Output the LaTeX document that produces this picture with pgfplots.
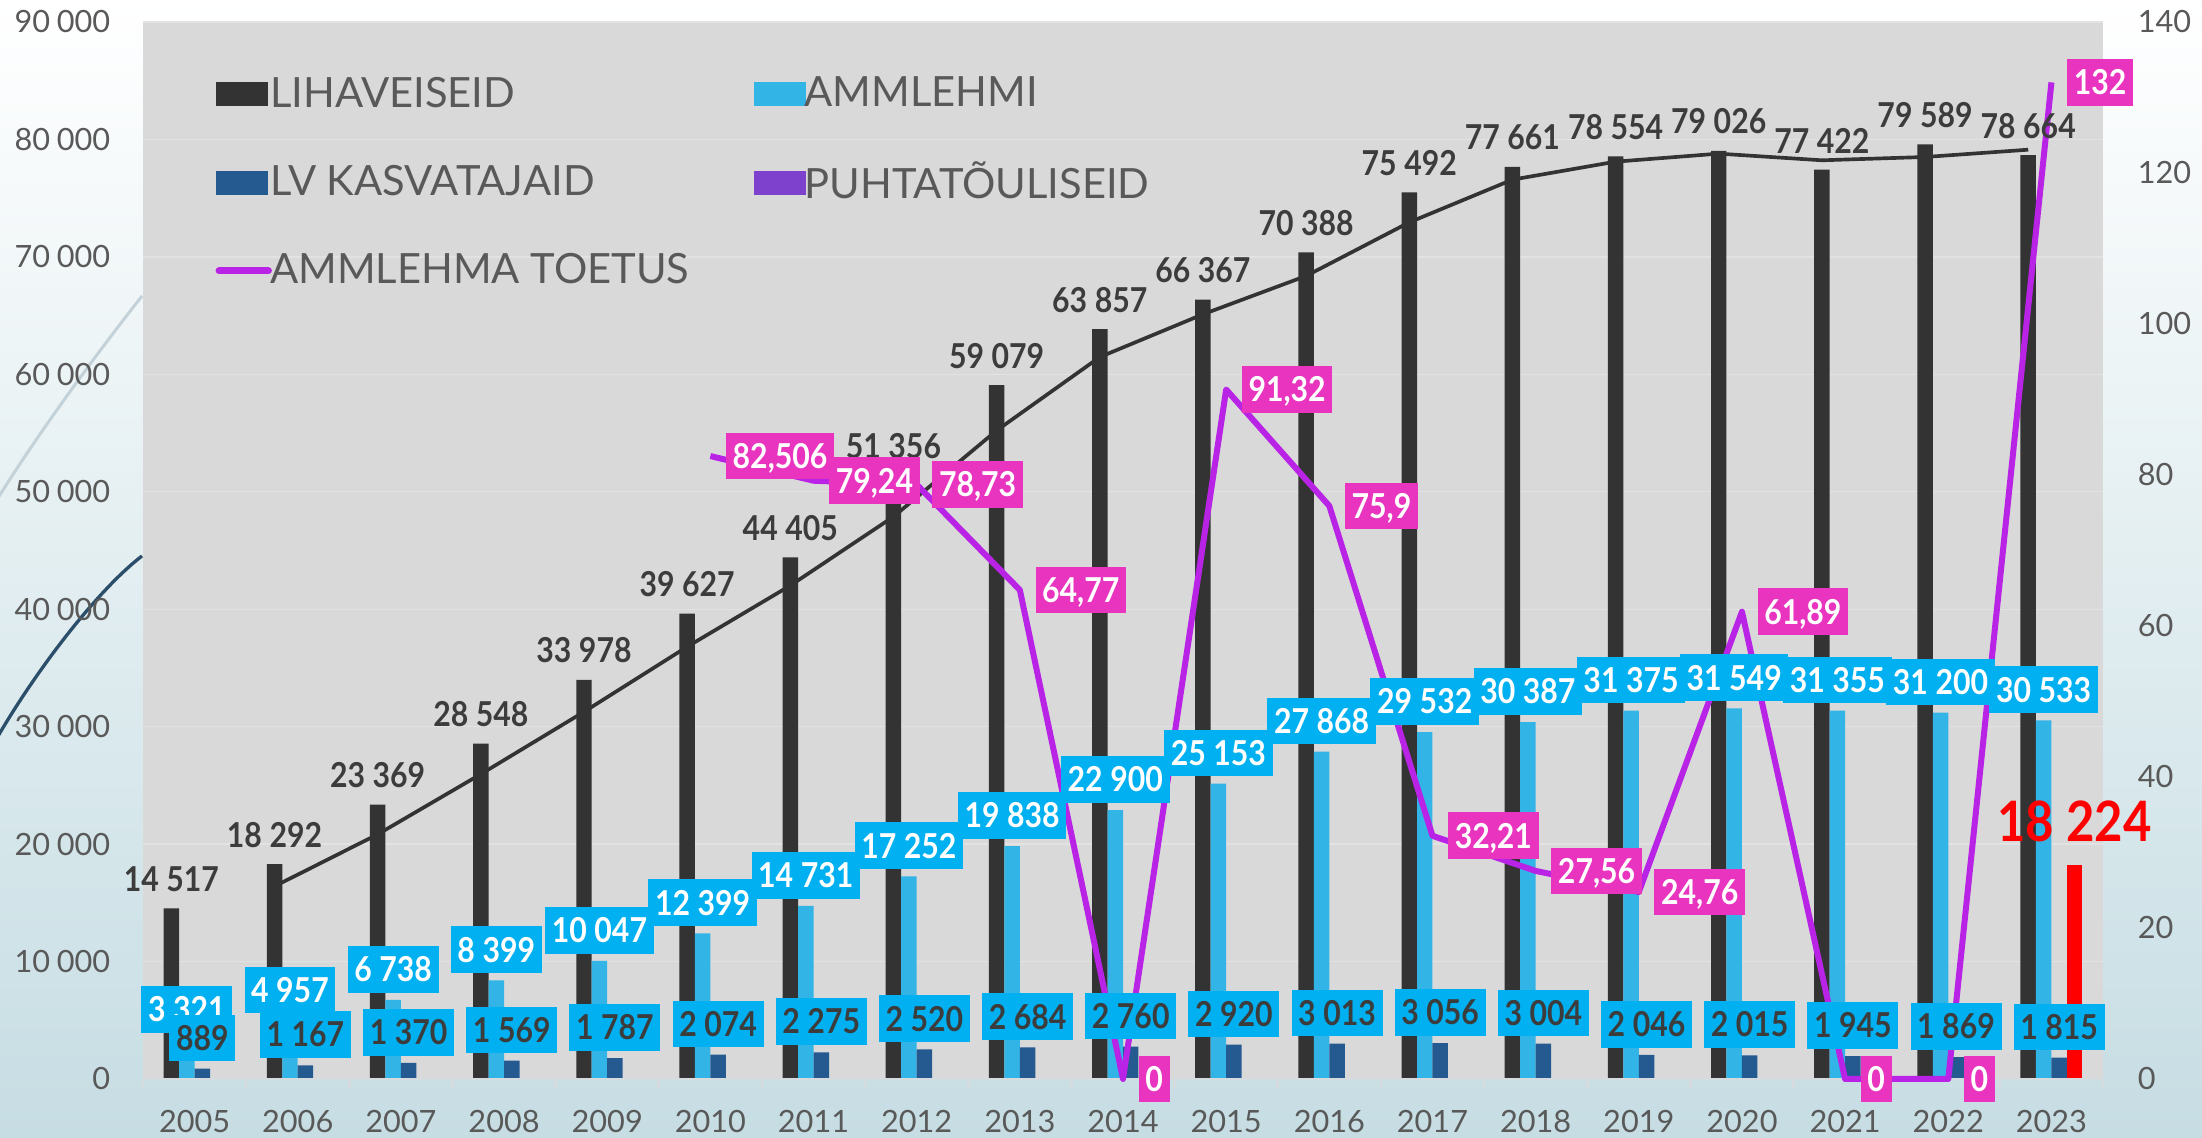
\documentclass[border=0pt]{standalone}
\usepackage{pgfplots}
\pgfplotsset{compat=1.18}
\usepackage{pgfplotstable}
\usepackage{fontspec}
\setmainfont{Lato}
\newfontfamily\lblfamily{Lato}[FakeStretch=0.88]

\definecolor{plotbg}{HTML}{D9D9D9}
\definecolor{lihac}{HTML}{333333}
\definecolor{ammc}{HTML}{32B4E6}
\definecolor{lvc}{HTML}{255A91}
\definecolor{puhc}{HTML}{7D41CD}
\definecolor{linec}{HTML}{B923E6}
\definecolor{boxblue}{HTML}{00B0F0}
\definecolor{boxmag}{HTML}{E834BE}
\definecolor{labdark}{HTML}{3C3C3C}
\definecolor{tickc}{HTML}{595959}
\definecolor{bgbottom}{HTML}{C6DDE3}
\definecolor{decolight}{HTML}{C3D1D8}
\definecolor{decodark}{HTML}{2B4F6B}
\definecolor{axisc}{HTML}{D5DCDF}

\pgfplotsset{
  barleg/.style={legend image code/.code={\fill[##1] (0pt,-3.6pt) rectangle (15.6pt,3.6pt);}},
  lineleg/.style={legend image code/.code={\draw[##1, line width=2.1pt, line cap=round] (0.8pt,0pt) -- (15.6pt,0pt);}},
}

\pgfplotstableread{
x liha amm lv
0 14517 3321 889
1 18292 4957 1167
2 23369 6738 1370
3 28548 8399 1569
4 33978 10047 1787
5 39627 12399 2074
6 44405 14731 2275
7 51356 17252 2520
8 59079 19838 2684
9 63857 22900 2760
10 66367 25153 2920
11 70388 27868 3013
12 75492 29532 3056
13 77661 30387 3004
14 78554 31375 2046
15 79026 31549 2015
16 77422 31355 1945
17 79589 31200 1869
18 78664 30533 1815
}\maindata

\pgfplotstableread{
x t
1 16404.5
2 20830.5
3 25958.5
4 31263
5 36802.5
6 42016
7 47880.5
8 55217.5
9 61468
10 65112
11 68377.5
12 72940
13 76576.5
14 78107.5
15 78790
16 78224
17 78505.5
18 79126.5
}\trenddata

\pgfplotstableread{
x v lbl
5 82.506 82,506
6 79.24 79,24
7 78.73 78,73
8 64.77 64,77
9 0 0
10 91.32 91,32
11 75.9 75,9
12 32.21 32,21
13 27.56 27,56
14 24.76 24,76
15 61.89 61,89
16 0 0
17 0 0
18 132 132
}\toetus

\tikzset{
  lblfont/.style={font=\lblfamily\bfseries\fontsize{10.3}{12}\selectfont},
  boxlbl/.style={lblfont, inner xsep=2pt, inner ysep=3.3pt, text height=7.4pt, text depth=0pt},
  bluebox/.style={boxlbl, fill=boxblue, anchor=south, yshift=2pt},
  magbox/.style={boxlbl, fill=boxmag, text=white, anchor=west, xshift=4.5pt},
}

\begin{document}
\begin{tikzpicture}
% background of the slide
\shade[top color=white, bottom color=bgbottom] (-42.9pt,-17.7pt) rectangle (617.7pt,323.7pt);
\draw[decolight, line width=0.9pt] (-0.3pt,234.9pt) .. controls (-12pt,220pt) and (-30pt,196pt) .. (-44pt,173.5pt);
\draw[decodark, line width=1pt] (-0.3pt,156.9pt) .. controls (-12pt,148pt) and (-30pt,126pt) .. (-44pt,102pt);

\begin{axis}[
  at={(0pt,0pt)}, anchor=south west,
  scale only axis, width=588pt, height=317.1pt,
  xmin=-0.5, xmax=18.5, ymin=0, ymax=90000,
  clip=false,
  axis background/.style={fill=plotbg},
  axis line style={draw=none},
  xtick={0,...,18},
  xticklabels={2005,2006,2007,2008,2009,2010,2011,2012,2013,2014,2015,2016,2017,2018,2019,2020,2021,2022,2023},
  minor xtick={-0.5,0.5,...,18.5},
  xtick pos=left, ytick pos=left,
  tick align=outside,
  major tick length=0pt,
  minor tick length=3pt,
  minor x tick style={draw=axisc, line width=0.8pt},
  ytick={0,10000,...,90000},
  scaled y ticks=false,
  /pgf/number format/assume math mode=true,
  yticklabel style={/pgf/number format/1000 sep={\hspace{0.22em}}, xshift=-6.3pt},
  xticklabel style={yshift=-5.9pt},
  ticklabel style={font=\fontsize{9.2}{11}\selectfont, text=tickc},
  ymajorgrids, major grid style={draw=white!25!plotbg, line width=0.4pt},
  legend columns=2,
  legend cell align=left,
  legend style={at={(0.0367,0.955)}, anchor=north west, draw=none, fill=none,
    font=\fontsize{12.5}{15}\selectfont, text=tickc, inner sep=0pt,
    row sep=10.9pt,
    /tikz/every odd column/.append style={column sep=-2.5pt},
    /tikz/every even column/.append style={column sep=17.5pt}},
  barleg,
]
\addplot[ybar, bar width=0.15, bar shift=-0.225, fill=lihac, draw=none] table[x=x, y=liha]{\maindata};
\addlegendentry{LIHAVEISEID}
\addplot[ybar, bar width=0.15, bar shift=-0.075, fill=ammc, draw=none] table[x=x, y=amm]{\maindata};
\addlegendentry{AMMLEHMI}
\addplot[ybar, bar width=0.15, bar shift=0.075, fill=lvc, draw=none] table[x=x, y=lv]{\maindata};
\addlegendentry{LV KASVATAJAID}
\addlegendimage{fill=puhc, draw=none}
\addlegendentry{PUHTATÕULISEID}
\addplot[ybar, bar width=0.15, bar shift=0.225, fill=red, draw=none, forget plot] coordinates {(18,18224)};

% bottom axis line
\draw[axisc, line width=0.8pt] (rel axis cs:0,0) -- (rel axis cs:1,0);

% black labels
\addplot[draw=none, mark=none, forget plot, point meta=y,
  nodes near coords={\pgfmathprintnumber[fixed,precision=0,1000 sep={\hspace{0.22em}}]{\pgfplotspointmeta}},
  every node near coord/.append style={lblfont, text=labdark, anchor=south, inner sep=0pt, yshift=4.8pt}]
  table[x expr=\thisrow{x}-0.225, y=liha]{\maindata};

% moving average trend line
\addplot[lihac, line width=1.1pt, mark=none, forget plot] table[x expr=\thisrow{x}-0.225, y=t]{\trenddata};

% AMMLEHMA TOETUS line (right axis, 0-140 mapped onto 0-90000)
\addplot[linec, line width=1.8pt, mark=none, line join=round, lineleg]
  table[x=x, y expr=\thisrow{v}*642.857142857]{\toetus};
\addlegendentry{AMMLEHMA TOETUS}

% red label
\node[anchor=south, font=\lblfamily\bfseries\fontsize{16.7}{20}\selectfont, text=red, inner sep=0pt] at (axis cs:18.225,18224) [yshift=6.6pt] {18\hspace{0.22em}224};

% blue labels AMMLEHMI
\addplot[draw=none, mark=none, forget plot, point meta=y,
  nodes near coords={\pgfmathprintnumber[fixed,precision=0,1000 sep={\hspace{0.22em}}]{\pgfplotspointmeta}},
  every node near coord/.append style={bluebox, text=white}]
  table[x expr=\thisrow{x}-0.075, y=amm]{\maindata};
% blue labels LV KASVATAJAID
\addplot[draw=none, mark=none, forget plot, point meta=y,
  nodes near coords={\pgfmathprintnumber[fixed,precision=0,1000 sep={\hspace{0.22em}}]{\pgfplotspointmeta}},
  every node near coord/.append style={bluebox, text=labdark}]
  table[x expr=\thisrow{x}+0.075, y=lv]{\maindata};
% magenta labels
\addplot[draw=none, mark=none, forget plot, point meta=explicit symbolic,
  nodes near coords, every node near coord/.append style={magbox}]
  table[x=x, y expr=\thisrow{v}*642.857142857, meta=lbl]{\toetus};
\end{axis}

\begin{axis}[
  at={(0pt,0pt)}, anchor=south west,
  scale only axis, width=588pt, height=317.1pt,
  xmin=-0.5, xmax=18.5, ymin=0, ymax=140,
  hide x axis,
  axis line style={draw=none},
  ytick={0,20,...,140},
  ytick pos=right, yticklabel pos=right,
  major tick length=0pt,
  /pgf/number format/assume math mode=true,
  yticklabel style={xshift=6.9pt},
  ticklabel style={font=\fontsize{9.2}{11}\selectfont, text=tickc},
]
\addplot[draw=none, mark=none] coordinates {(0,0) (18,0)};
\end{axis}

\pgfresetboundingbox
\useasboundingbox (-42.9pt,-17.7pt) rectangle (617.7pt,323.7pt);
\end{tikzpicture}
\end{document}
